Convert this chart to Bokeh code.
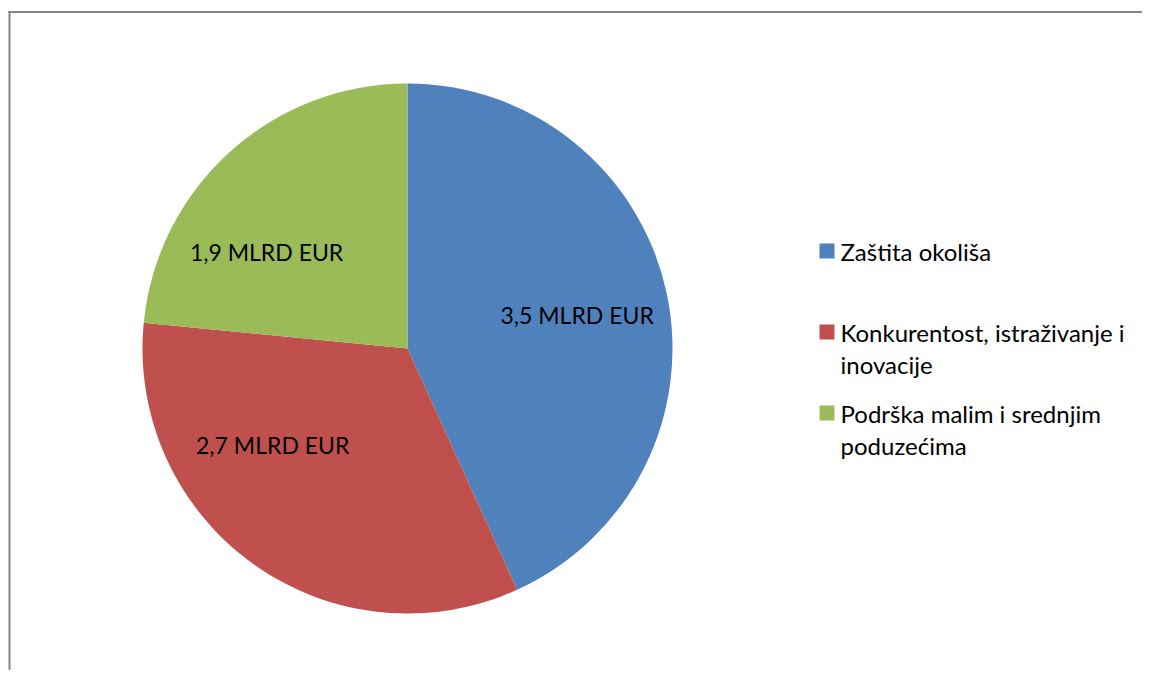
import math
import textwrap
from bokeh.plotting import figure
from bokeh.models import Range1d, ColumnDataSource
from bokeh.core.properties import value
from bokeh.embed import file_html
from bokeh.resources import INLINE

# ---- data ----
categories = ["Zaštita okoliša", "Konkurentost, istraživanje i inovacije", "Podrška malim i srednjim poduzećima"]
values = [3.5, 2.7, 1.9]
data_labels = ["3,5 MLRD EUR", "2,7 MLRD EUR", "1,9 MLRD EUR"]
colors = ["#4F81BD", "#C0504D", "#9BBB59"]

# ---- layout ----
W, H = 1142, 670
FONT = "Lato"
cx, cy, R = 407, H - 348, 265
label_angle_deg = [11.3, -144.3, 145.5]   # label placement (layout)
label_r = [173, 166, 171]

p = figure(width=W, height=H, output_backend="svg", toolbar_location=None,
           x_range=Range1d(0, W), y_range=Range1d(0, H), min_border=0)
p.axis.visible = False
p.grid.visible = False
p.outline_line_color = None
p.background_fill_color = "white"
p.border_fill_color = "white"

# chart border (right/bottom run off page): left and top edges only
bx, by = 9, H - 11.5
p.segment(x0=[bx, bx - 1], y0=[-50, by], x1=[bx, W + 50], y1=[by + 1, by],
          line_color="#868686", line_width=2)

# pie
total = sum(values)
starts, ends = [], []
acc = 0.0
for v in values:
    starts.append(math.pi / 2 - acc / total * 2 * math.pi)
    acc += v
    ends.append(math.pi / 2 - acc / total * 2 * math.pi)
src = ColumnDataSource(dict(x=[cx] * 3, y=[cy] * 3, start=starts, end=ends, color=colors))
p.wedge(x="x", y="y", radius=R, radius_units="screen", start_angle="start", end_angle="end",
        direction="clock", fill_color="color", line_color=None, source=src)

# data labels
lx = [cx + r * math.cos(math.radians(a)) for a, r in zip(label_angle_deg, label_r)]
ly = [cy + r * math.sin(math.radians(a)) for a, r in zip(label_angle_deg, label_r)]
p.text(x=lx, y=ly, text=data_labels, text_font=value(FONT), text_font_size="23px",
       text_align="center", text_baseline="middle", text_color="#000000")

# legend
leg_x, leg_y0, leg_step, line_step = 819, H - 251, 81, 32
sq_x, sq_y, tx, ty, tt = [], [], [], [], []
for i, (cat, col) in enumerate(zip(categories, colors)):
    yc = leg_y0 - leg_step * i
    sq_x.append(leg_x + 7.5)
    sq_y.append(yc + 0.5)
    for j, line in enumerate(textwrap.wrap(cat, 28)):
        tx.append(leg_x + 21)
        ty.append(yc - line_step * j)
        tt.append(line)
p.rect(x=sq_x, y=sq_y, width=15, height=15, width_units="screen", height_units="screen",
       fill_color=colors, line_color=None)
p.text(x=tx, y=ty, text=tt, text_font=value(FONT), text_font_size="24px",
       text_align="left", text_baseline="middle", text_color="#000000")

open("out.html", "w").write(file_html(p, INLINE))
